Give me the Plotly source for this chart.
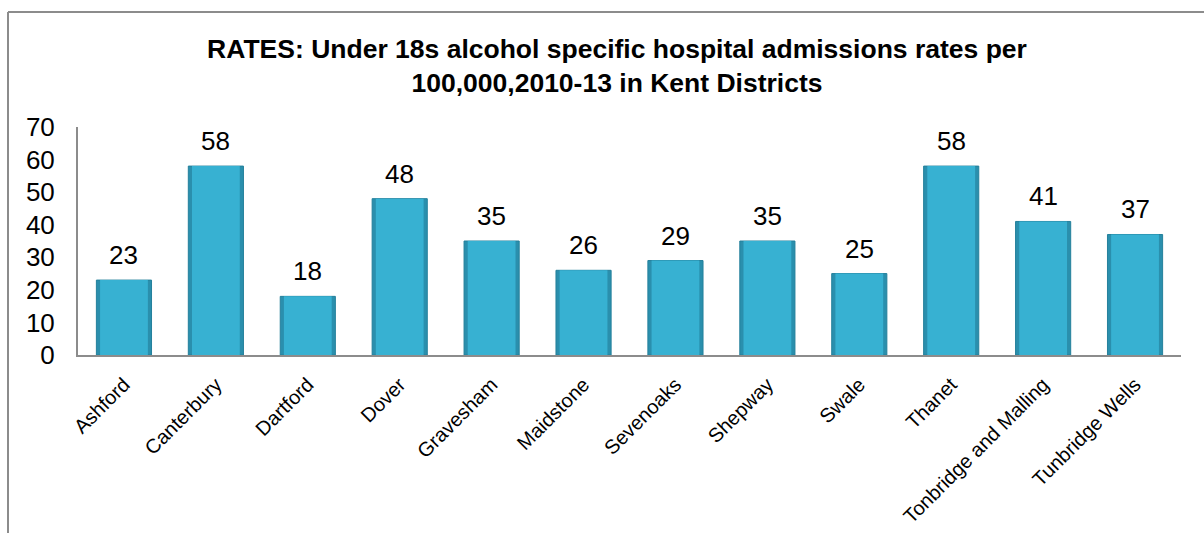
import plotly.graph_objects as go

districts = ["Ashford", "Canterbury", "Dartford", "Dover", "Gravesham", "Maidstone",
             "Sevenoaks", "Shepway", "Swale", "Thanet", "Tonbridge and Malling",
             "Tunbridge Wells"]
rates = [23, 58, 18, 48, 35, 26, 29, 35, 25, 58, 41, 37]
y_ticks = [0, 10, 20, 30, 40, 50, 60, 70]

W, H = 1204, 533
ML, MR, MT, MB = 78, 23, 127, 178
PW, PH = W - ML - MR, H - MT - MB

fig = go.Figure()

# darker body gives the bar edges, lighter inner body sits on top
fig.add_trace(go.Bar(x=districts, y=rates, width=0.6,
                     marker=dict(color="#2A8FAD", line=dict(color="#24809C", width=1)),
                     hoverinfo="x+y", showlegend=False))
fig.add_trace(go.Bar(x=districts, y=rates, width=0.52,
                     marker=dict(color="#37B1D2", line=dict(width=0)),
                     hoverinfo="skip", showlegend=False))

for d, v in zip(districts, rates):
    fig.add_annotation(x=d, y=v, text=str(v), showarrow=False, yanchor="bottom",
                       yshift=8, font=dict(size=26, color="#000000"))

# outer chart frame (top and left edges)
fx0 = (8 - ML) / PW
fy1 = 1 + (MT - 12) / PH
fig.add_shape(type="line", xref="paper", yref="paper", x0=fx0, x1=1.1, y0=fy1, y1=fy1,
              line=dict(color="#8C8C8C", width=2))
fig.add_shape(type="line", xref="paper", yref="paper", x0=fx0, x1=fx0, y0=fy1, y1=-1.0,
              line=dict(color="#8C8C8C", width=2))

fig.update_layout(
    width=W, height=H,
    margin=dict(l=ML, r=MR, t=MT, b=MB, autoexpand=False),
    paper_bgcolor="white", plot_bgcolor="white",
    barmode="overlay",
    font=dict(family="Liberation Sans, Arial, sans-serif", color="#000000"),
    title=dict(text="<b>RATES: Under 18s alcohol specific hospital admissions rates per<br>100,000,2010-13 in Kent Districts</b>",
               x=617 / W, xanchor="center", xref="container",
               y=1 - 58 / H, yanchor="top", yref="container", pad=dict(t=0),
               font=dict(size=26.5, color="#000000")),
    xaxis=dict(showgrid=False, showline=True, linecolor="#8C8C8C", linewidth=2,
               tickangle=-45, tickfont=dict(size=20), ticks="", automargin=False,
               ticklabelstandoff=8, fixedrange=True),
    yaxis=dict(range=[0, 70], tickvals=y_ticks, showgrid=False, showline=True,
               linecolor="#8C8C8C", linewidth=2, ticks="", tickfont=dict(size=26),
               automargin=False, ticklabelstandoff=16, zeroline=False, fixedrange=True),
)

fig.write_html("out.html")
